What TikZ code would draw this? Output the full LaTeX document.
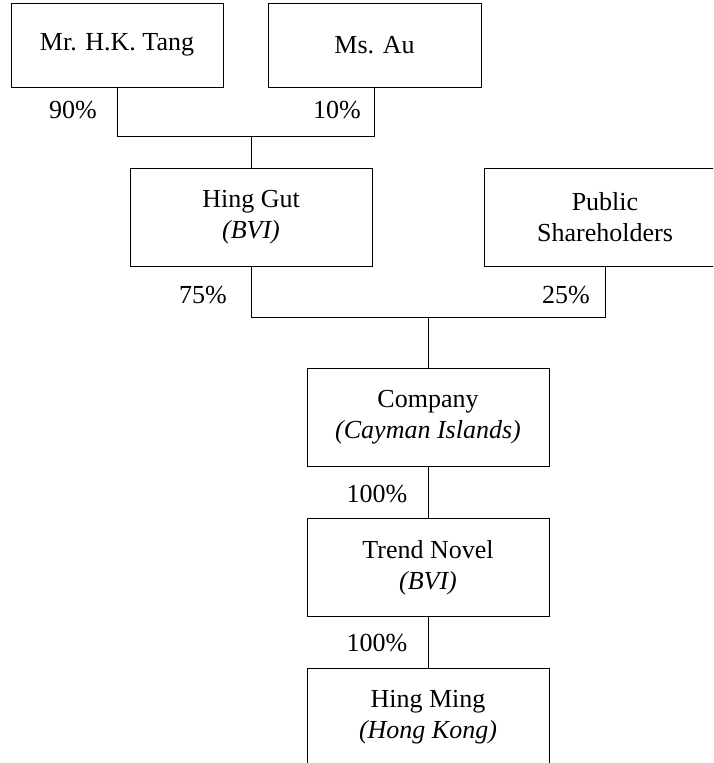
\documentclass[tikz,border=0pt]{standalone}
\usepackage{fontspec}
\setmainfont{Liberation Serif}
\usetikzlibrary{positioning}

\begin{document}
\begin{tikzpicture}[x=1pt, y=-1pt, node distance=51pt, every node/.style={font=\fontsize{26}{31}\selectfont}, box/.style={draw, line width=1pt, align=center, minimum width=242pt, minimum height=98pt, inner sep=0pt}, link/.style={line width=1pt}]
\clip (0,0) rectangle (713,763);
\node[box, minimum width=212pt, minimum height=84pt] (tang) at (117,45) {Mr. H.K. Tang};
\node[box, minimum width=213pt, minimum height=84pt] (au) at (374.5,45) {Ms. Au};
\node[box] (gut) at (251,217) {Hing Gut\\\textit{(BVI)}};
\node[box] (public) at (605,217) {Public\\Shareholders};
\node[box] (company) at (428,417.5) {Company\\\textit{(Cayman Islands)}};
\node[box, below=of company] (trend) {Trend Novel\\\textit{(BVI)}};
\node[box, below=of trend] (ming) {Hing Ming\\\textit{(Hong Kong)}};
\coordinate (top) at (0,136);
\coordinate (mid) at (0,317.5);
\draw[link] (tang.south) |- (au.south |- top) -- (au.south);
\draw[link] (gut.north) -- (gut.north |- top);
\draw[link] (gut.south) |- (public.south |- mid) -- (public.south);
\draw[link] (company.north) -- (company.north |- mid);
\draw[link] (company) -- (trend);
\draw[link] (trend) -- (ming);
\node (tangpc) at (73,110) {90\%};
\node (aupc) at (337,110) {10\%};
\node (gutpc) at (203,295) {75\%};
\node (publicpc) at (566,295) {25\%};
\node (companypc) at (377,494) {100\%};
\node (trendpc) at (377,643) {100\%};
\end{tikzpicture}
\end{document}
